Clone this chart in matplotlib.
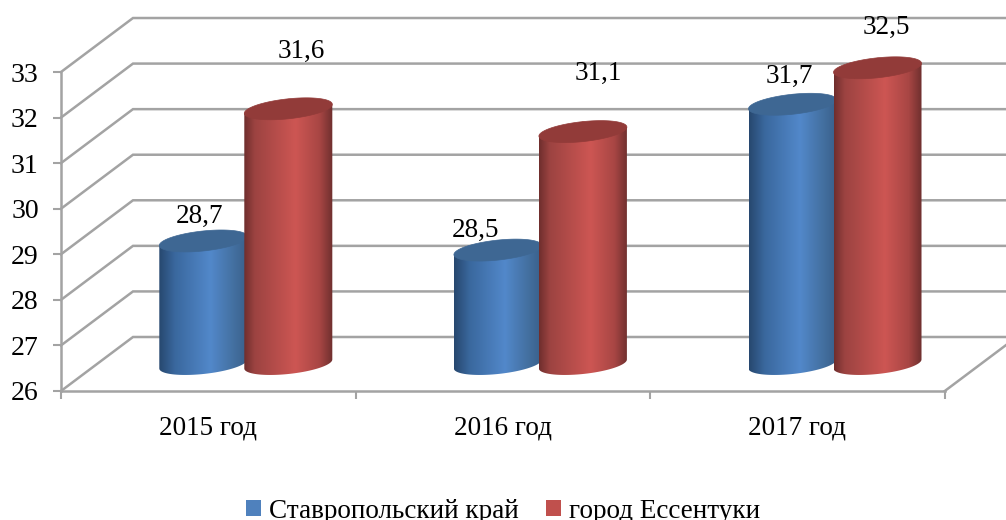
import numpy as np
import matplotlib
matplotlib.use("Agg")
import matplotlib.pyplot as plt
from matplotlib.colors import LinearSegmentedColormap
from matplotlib.patches import Patch, Polygon

categories = ["2015 год", "2016 год", "2017 год"]
series_names = ["Ставропольский край", "город Ессентуки"]
stavropol = [28.7, 28.5, 31.7]
essentuki = [31.6, 31.1, 32.5]
y_ticks = [26, 27, 28, 29, 30, 31, 32, 33]

W, H = 1006, 520
PX_CAT = 294.6      # pixels per category
PX_VAL = 45.57      # pixels per value unit
X0, Y0 = 61, 391    # pixel of (0, 26)
DEPTH_X = 72 / PX_CAT
DEPTH_Y = 54 / PX_VAL
GRID = "#a3a3a3"

plt.rcParams["font.family"] = ["Liberation Serif", "DejaVu Serif"]
fig = plt.figure(figsize=(W / 100, H / 100), dpi=100)
ax = fig.add_axes([0, 0, 1, 1])
ax.patch.set_alpha(0)

xlim = (-X0 / PX_CAT, (W - X0) / PX_CAT)
ylim = (26 - (H - Y0) / PX_VAL, 26 + Y0 / PX_VAL)


def px_x(px):
    return px / PX_CAT


def px_y(px):
    return px / PX_VAL


# walls and floor
n_cat = len(categories)
for v in y_ticks:
    ax.plot([0, DEPTH_X, n_cat + DEPTH_X], [v, v + DEPTH_Y, v + DEPTH_Y],
            color=GRID, lw=1.8, solid_joinstyle="miter", zorder=1)
ax.plot([n_cat, n_cat + DEPTH_X], [26, 26 + DEPTH_Y], color=GRID, lw=1.8, zorder=1)


def make_cmap(stops):
    return LinearSegmentedColormap.from_list("c", stops)


styles = [
    dict(cmap=make_cmap([(0, "#27486f"), (0.18, "#3a689e"), (0.58, "#5288ca"),
                         (0.85, "#436f9f"), (1, "#395f8a")]), top="#3e6793"),
    dict(cmap=make_cmap([(0, "#6f2e2d"), (0.12, "#9c4341"), (0.58, "#cd5653"),
                         (0.85, "#a84644"), (1, "#6e2f2e")]), top="#923b39"),
]

HALF_W = 44
TILT = 4.5
SEMI = 10.0
CENTER_OFF = [-42, 43]
t_low = np.linspace(np.pi, 2 * np.pi, 60)
t_all = np.linspace(0, 2 * np.pi, 120)


def cylinder(cx, value, style, z):
    base = 26 + DEPTH_Y / 2
    top = value + DEPTH_Y / 2
    # lower arc of the base ellipse
    bx = cx + px_x(HALF_W * np.cos(t_low))
    by = base + px_y(TILT * np.cos(t_low) + SEMI * np.sin(t_low))
    left_top = (cx - px_x(HALF_W), top - px_y(TILT))
    right_top = (cx + px_x(HALF_W), top + px_y(TILT))
    verts = np.vstack([[left_top], np.column_stack([bx, by]), [right_top],
                       [(cx, top + px_y(SEMI))]])
    clip = Polygon(verts, closed=True, transform=ax.transData,
                   facecolor="none", edgecolor="none")
    ax.add_patch(clip)
    im = ax.imshow(np.linspace(0, 1, 256).reshape(1, -1), cmap=style["cmap"],
                   extent=(cx - px_x(HALF_W), cx + px_x(HALF_W), base - px_y(14), top + px_y(14)),
                   aspect="auto", zorder=z, interpolation="bilinear")
    im.set_clip_path(clip)
    tx = cx + px_x(HALF_W * np.cos(t_all))
    ty = top + px_y(TILT * np.cos(t_all) + SEMI * np.sin(t_all))
    ax.add_patch(Polygon(np.column_stack([tx, ty]), closed=True, facecolor=style["top"],
                         edgecolor=style["top"], lw=0.5, zorder=z + 0.5))


label_offsets = [[(-4, 25), (-22, 20), (-3, 28)], [(13, 57), (15, 58), (9, 40)]]

for s, values in enumerate([stavropol, essentuki]):
    for i, v in enumerate(values):
        cx = i + 0.5 + DEPTH_X / 2 + px_x(CENTER_OFF[s]) + px_x(1)
        cylinder(cx, v, styles[s], 3 + 2 * s)
        dx, dy = label_offsets[s][i]
        ax.annotate(f"{v:.1f}".replace(".", ","), xy=(cx, v + DEPTH_Y / 2),
                    xytext=(dx, dy), textcoords="offset pixels", ha="center", va="center",
                    fontsize=19.5, color="black", zorder=10)

# axes
for side in ("top", "right"):
    ax.spines[side].set_visible(False)
ax.spines["left"].set_position(("data", 0))
ax.spines["bottom"].set_position(("data", 26))
ax.spines["left"].set_bounds(26, 33)
ax.spines["bottom"].set_bounds(0, n_cat)
for side in ("left", "bottom"):
    ax.spines[side].set_color(GRID)
    ax.spines[side].set_linewidth(1.8)
    ax.spines[side].set_zorder(2)
ax.set_yticks(y_ticks)
ax.set_yticklabels([str(v) for v in y_ticks], fontsize=20, color="black")
ax.set_xticks(np.arange(n_cat + 1))
ax.set_xticklabels([""] * (n_cat + 1))
ax.set_xticks(np.arange(n_cat) + 0.5, minor=True)
ax.set_xticklabels(categories, minor=True, fontsize=19.5, color="black")
ax.tick_params(axis="both", which="major", length=6, width=1.5, color=GRID)
ax.tick_params(axis="y", which="major", pad=10)
ax.tick_params(axis="x", which="minor", length=0, pad=18)

handles = [Patch(facecolor="#4f81bd"), Patch(facecolor="#c0504d")]
ax.legend(handles, series_names, ncol=2, loc="center", bbox_to_anchor=(0.5, 0.017),
          frameon=False, fontsize=19.5, handlelength=0.55, handleheight=0.55,
          handletextpad=0.3, columnspacing=1.0, borderpad=0, labelcolor="black")

ax.set_xlim(*xlim)
ax.set_ylim(*ylim)
fig.savefig("out.png", dpi=100)
